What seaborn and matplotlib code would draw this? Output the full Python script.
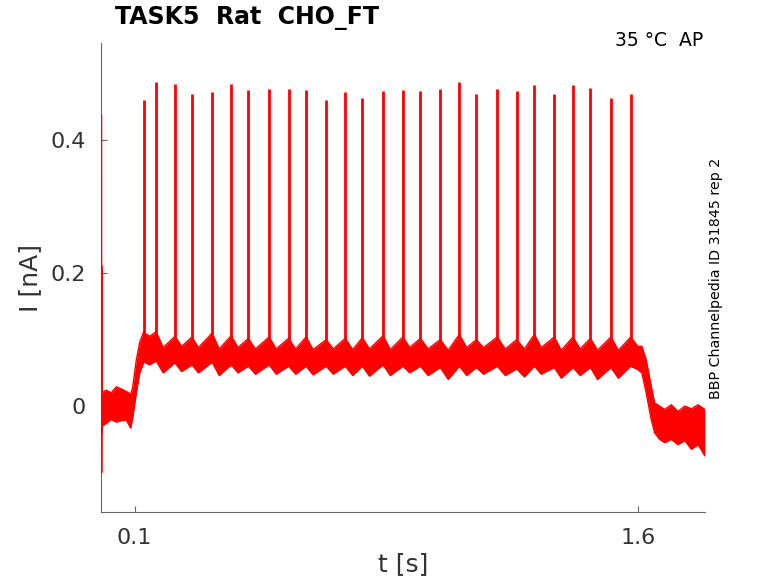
import numpy as np
import pandas as pd
import matplotlib
matplotlib.use("Agg")
import matplotlib.pyplot as plt
import seaborn as sns

# spike times [s] and peak currents [nA]
spike_t = [0.129, 0.164, 0.220, 0.271, 0.331, 0.388, 0.439, 0.501, 0.559, 0.611,
           0.671, 0.728, 0.779, 0.841, 0.900, 0.952, 1.011, 1.068, 1.119, 1.181,
           1.239, 1.292, 1.351, 1.407, 1.459, 1.520, 1.579]
spike_peak = [0.460, 0.487, 0.485, 0.469, 0.472, 0.484, 0.475, 0.477, 0.477, 0.475,
              0.460, 0.472, 0.463, 0.474, 0.475, 0.474, 0.477, 0.487, 0.470, 0.477,
              0.474, 0.483, 0.469, 0.483, 0.478, 0.463, 0.469]

# onset artefact at t = 0
art_t = [0.0008, 0.0012, 0.002, 0.003, 0.005]
art_i = [0.437, -0.100, 0.210, -0.040, 0.000]

# noise band of the trace: time, upper edge, lower edge
env_t = [0.003, 0.015, 0.030, 0.045, 0.060, 0.075, 0.088, 0.094, 0.105, 0.115, 0.127,
         0.129, 0.145, 0.164, 0.185, 0.220, 0.240, 0.271, 0.290, 0.331, 0.352,
         0.388, 0.408, 0.439, 0.460, 0.501, 0.522, 0.559, 0.580, 0.611, 0.632,
         0.671, 0.692, 0.728, 0.750, 0.779, 0.800, 0.841, 0.862, 0.900, 0.920,
         0.952, 0.975, 1.011, 1.035, 1.068, 1.090, 1.119, 1.140, 1.181, 1.205,
         1.239, 1.262, 1.292, 1.312, 1.351, 1.372, 1.407, 1.428, 1.459, 1.480,
         1.520, 1.542, 1.579, 1.600, 1.612, 1.625, 1.640, 1.650, 1.665, 1.680,
         1.700, 1.720, 1.740, 1.760, 1.780, 1.800]
env_hi = [0.020, 0.024, 0.020, 0.029, 0.026, 0.022, 0.018, 0.028, 0.070, 0.096, 0.112,
          0.110, 0.105, 0.112, 0.088, 0.105, 0.090, 0.104, 0.088, 0.110, 0.086,
          0.106, 0.088, 0.102, 0.086, 0.104, 0.086, 0.102, 0.086, 0.104, 0.085,
          0.100, 0.086, 0.102, 0.085, 0.103, 0.086, 0.106, 0.085, 0.104, 0.088,
          0.102, 0.086, 0.100, 0.084, 0.108, 0.088, 0.100, 0.088, 0.104, 0.086,
          0.100, 0.086, 0.108, 0.088, 0.104, 0.084, 0.104, 0.086, 0.102, 0.084,
          0.104, 0.084, 0.104, 0.090, 0.090, 0.070, 0.030, 0.005, 0.000, -0.005,
          0.002, -0.008, 0.000, -0.004, 0.002, -0.005]
env_lo = [-0.030, -0.026, -0.020, -0.024, -0.022, -0.021, -0.033, -0.018, 0.020, 0.050, 0.066,
          0.066, 0.062, 0.068, 0.050, 0.065, 0.052, 0.062, 0.050, 0.066, 0.046,
          0.062, 0.050, 0.060, 0.048, 0.062, 0.048, 0.060, 0.048, 0.060, 0.047,
          0.060, 0.048, 0.060, 0.046, 0.060, 0.045, 0.062, 0.046, 0.060, 0.050,
          0.060, 0.046, 0.058, 0.040, 0.060, 0.046, 0.058, 0.048, 0.060, 0.046,
          0.056, 0.044, 0.060, 0.048, 0.058, 0.042, 0.058, 0.046, 0.058, 0.040,
          0.058, 0.042, 0.060, 0.055, 0.050, 0.020, -0.020, -0.040, -0.050, -0.055,
          -0.050, -0.058, -0.052, -0.065, -0.058, -0.075]

band = pd.DataFrame({"t": env_t, "hi": env_hi, "lo": env_lo})
RED = "#ff0000"

sns.set_theme(style="ticks")
plt.rcParams["font.family"] = ["DejaVu Sans"]

fig = plt.figure(figsize=(7.78, 5.83), dpi=100)
ax = fig.add_axes([0.130, 0.121, 0.776, 0.805])

ax.fill_between(band["t"], band["lo"], band["hi"], color=RED, lw=0)
sns.lineplot(data=band, x="t", y="hi", color=RED, lw=1, ax=ax)
sns.lineplot(data=band, x="t", y="lo", color=RED, lw=1, ax=ax)
ax.vlines(spike_t, 0.08, spike_peak, color=RED, lw=2)
ax.plot(art_t, art_i, color=RED, lw=1.2, zorder=5)

ax.set_xlim(0, 1.8)
ax.set_ylim(-0.16, 0.546)
ax.set_xticks([0.1, 1.6])
ax.set_xticklabels(["0.1", "1.6"])
ax.set_yticks([0, 0.2, 0.4])
ax.set_yticklabels(["0", "0.2", "0.4"])
ax.tick_params(direction="in", length=4.5, width=0.8, colors="#666666",
               labelcolor="#333333", labelsize=16, pad=11)
for side in ["top", "right"]:
    ax.spines[side].set_visible(False)
for side in ["left", "bottom"]:
    ax.spines[side].set_color("#666666")
    ax.spines[side].set_linewidth(0.8)

ax.set_xlabel("t [s]", fontsize=18, color="#333333", labelpad=3)
ax.set_ylabel("I [nA]", fontsize=18, color="#333333", labelpad=6)

fig.text(115 / 778, 1 - 18 / 583, "TASK5  Rat  CHO_FT", fontsize=17,
         fontweight="bold", color="black", ha="left", va="center")
fig.text(703 / 778, 1 - 40 / 583, "35 °C  AP", fontsize=13.5, color="black",
         ha="right", va="center")
fig.text(716 / 778, 1 - 278 / 583, "BBP Channelpedia ID 31845 rep 2", fontsize=10.3,
         color="black", rotation=90, ha="center", va="center")

fig.savefig("out.png", dpi=100)
